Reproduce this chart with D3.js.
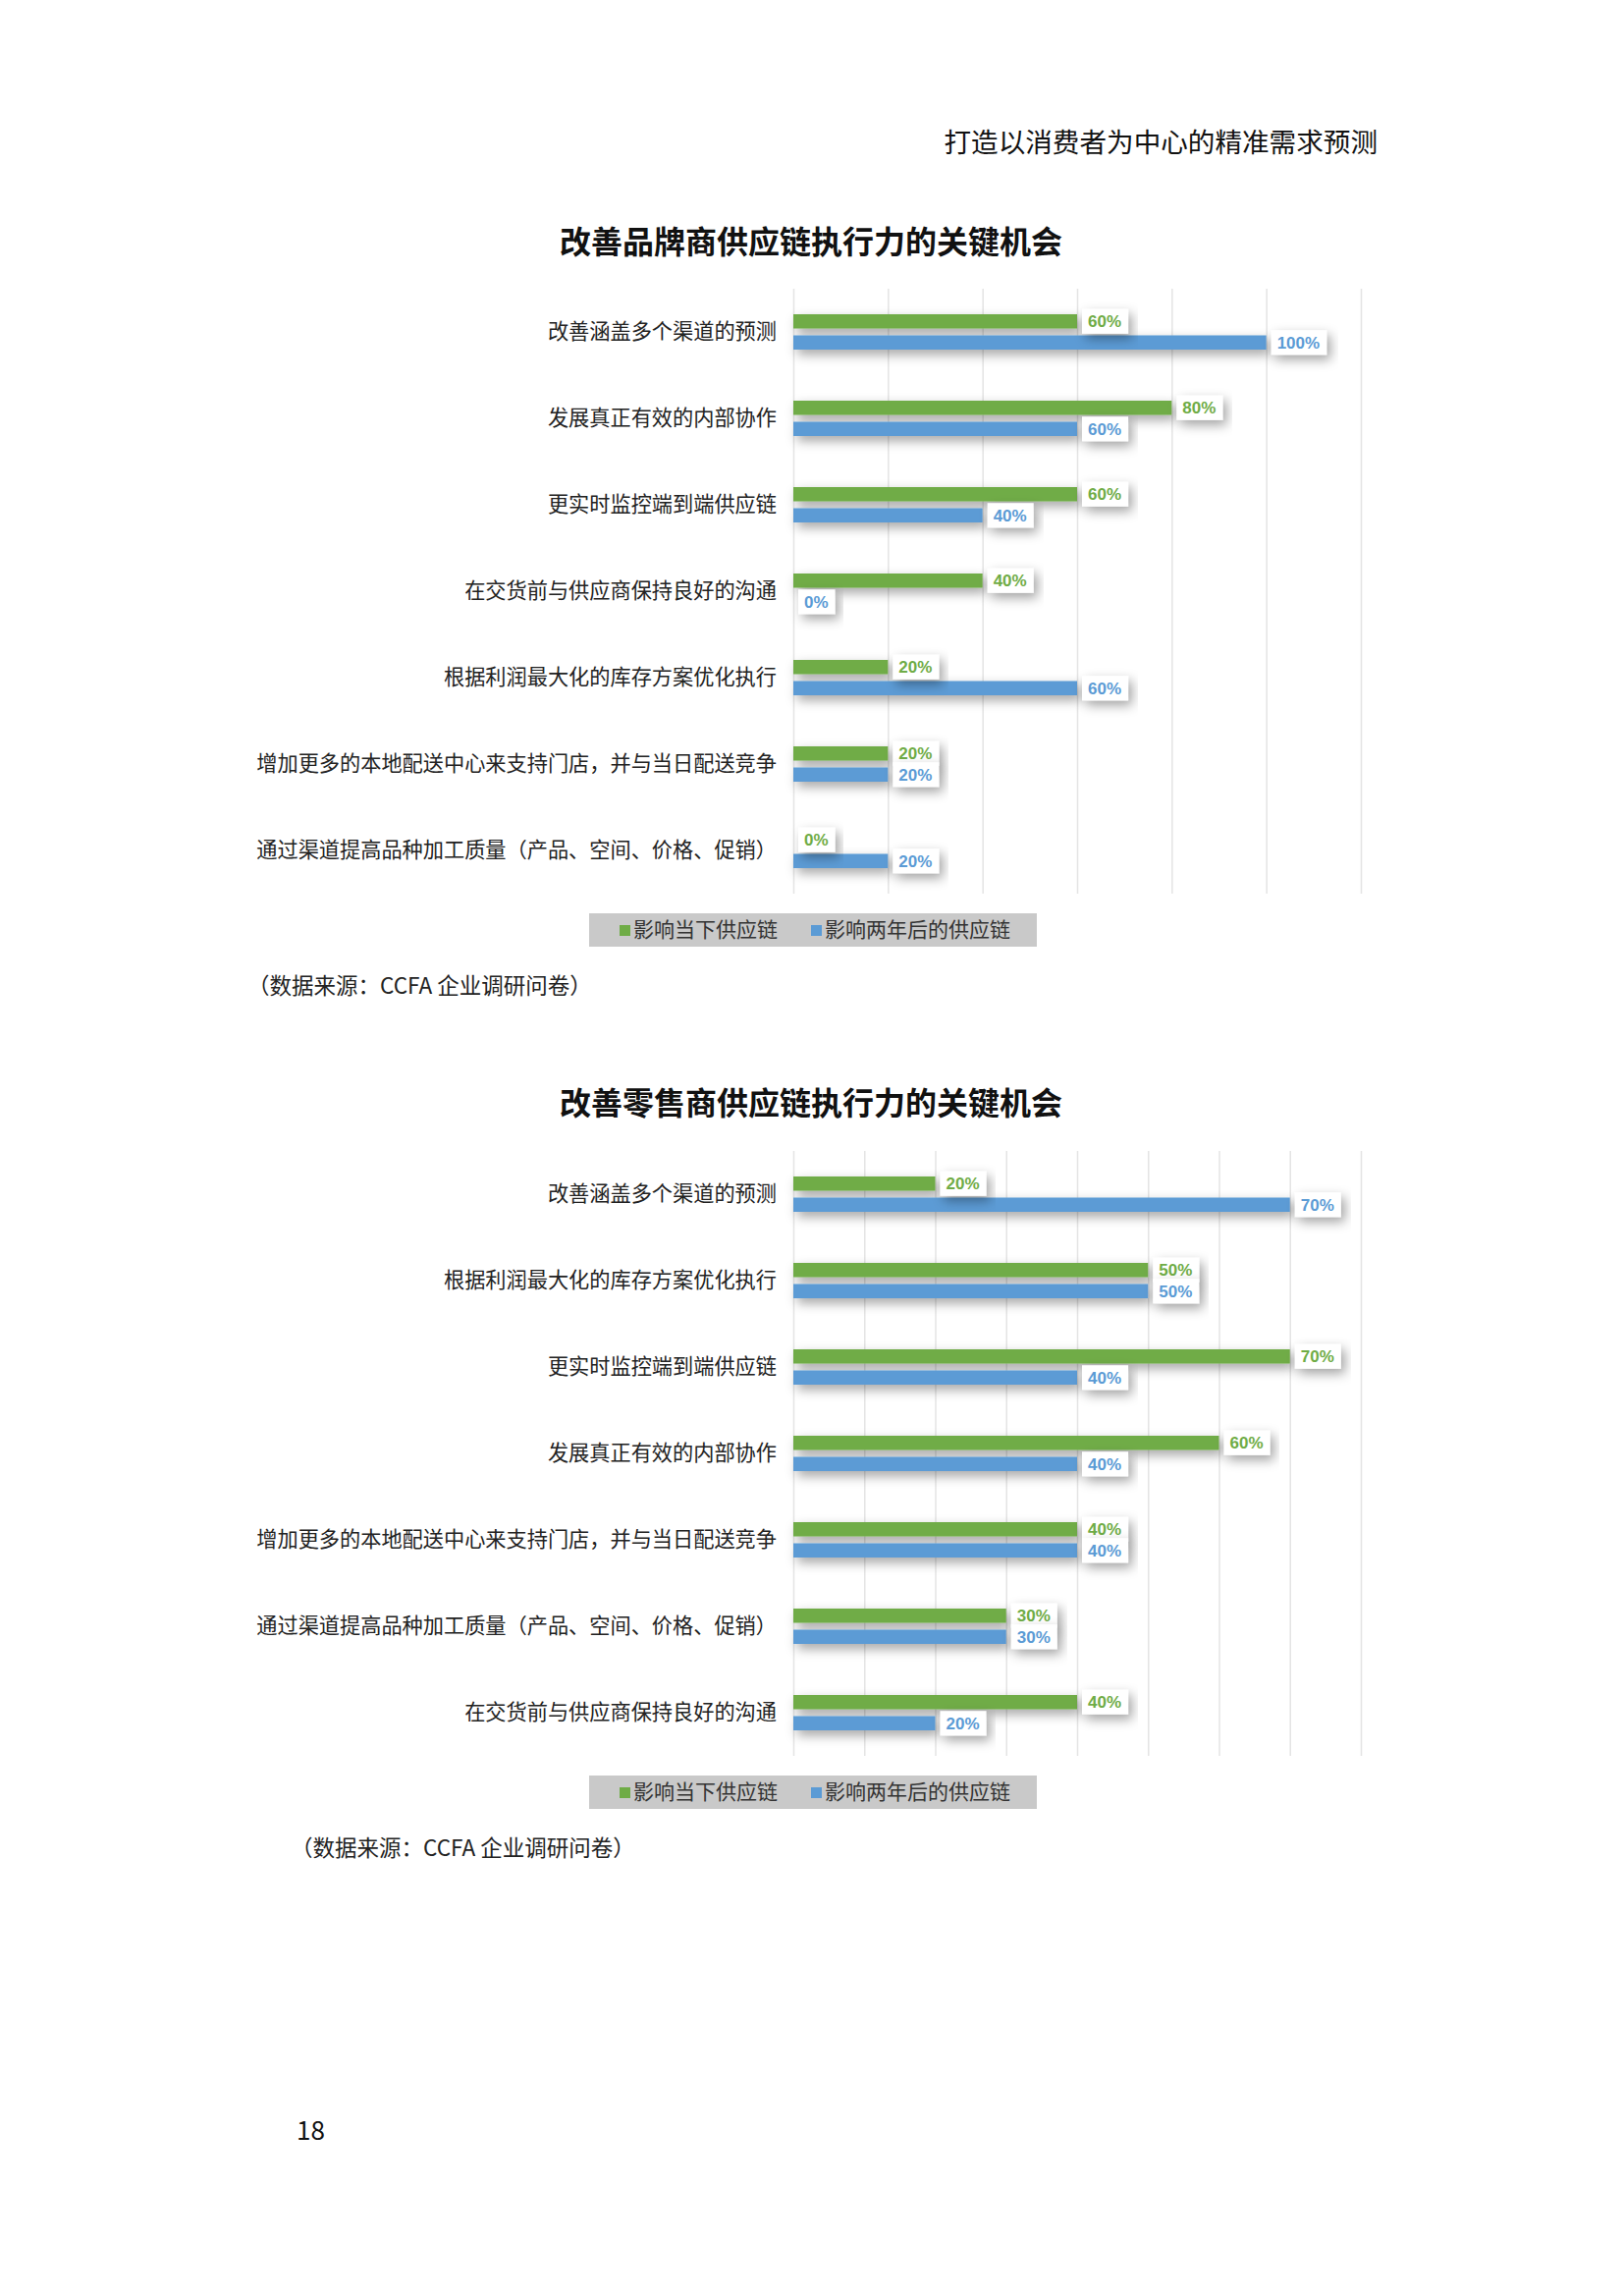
<!DOCTYPE html>
<html>
<head>
<meta charset="utf-8">
<script src="https://cdn.jsdelivr.net/npm/d3@7"></script>
<style>
  html, body { margin: 0; padding: 0; background: #fff; }
  svg { display: block; }
</style>
</head>
<body>
<svg id="page" width="1653" height="2338"></svg>
<script>
// ---------- DATA ----------
const pageHeader = "打造以消费者为中心的精准需求预测";
const seriesNames = ["影响当下供应链", "影响两年后的供应链"];
const sourceNote = "（数据来源：CCFA 企业调研问卷）";
const pageNumber = "18";

const title1 = "改善品牌商供应链执行力的关键机会";
const categories1 = [
  "改善涵盖多个渠道的预测",
  "发展真正有效的内部协作",
  "更实时监控端到端供应链",
  "在交货前与供应商保持良好的沟通",
  "根据利润最大化的库存方案优化执行",
  "增加更多的本地配送中心来支持门店，并与当日配送竞争",
  "通过渠道提高品种加工质量（产品、空间、价格、促销）"
];
const current1 = [0.6, 0.8, 0.6, 0.4, 0.2, 0.2, 0.0];
const future1  = [1.0, 0.6, 0.4, 0.0, 0.6, 0.2, 0.2];
const ticks1 = [0, 0.2, 0.4, 0.6, 0.8, 1.0, 1.2];

const title2 = "改善零售商供应链执行力的关键机会";
const categories2 = [
  "改善涵盖多个渠道的预测",
  "根据利润最大化的库存方案优化执行",
  "更实时监控端到端供应链",
  "发展真正有效的内部协作",
  "增加更多的本地配送中心来支持门店，并与当日配送竞争",
  "通过渠道提高品种加工质量（产品、空间、价格、促销）",
  "在交货前与供应商保持良好的沟通"
];
const current2 = [0.2, 0.5, 0.7, 0.6, 0.4, 0.3, 0.4];
const future2  = [0.7, 0.5, 0.4, 0.4, 0.4, 0.3, 0.2];
const ticks2 = [0, 0.1, 0.2, 0.3, 0.4, 0.5, 0.6, 0.7, 0.8];

// ---------- STYLE ----------
const CJK = "'Noto Sans CJK SC', 'Noto Sans', sans-serif";
const LAT = "'Liberation Sans', Arial, sans-serif";
const GREEN = "#6FAC46", BLUE = "#5B9BD5";
const colors = [GREEN, BLUE];

const svg = d3.select("#page");
const defs = svg.append("defs");
const f = defs.append("filter").attr("id", "shadow")
  .attr("x", "-20%").attr("y", "-150%").attr("width", "140%").attr("height", "400%");
f.append("feDropShadow").attr("dx", 4).attr("dy", 5).attr("stdDeviation", 6)
  .attr("flood-color", "#000").attr("flood-opacity", 0.36);

// page header
svg.append("text").attr("x", 1403).attr("y", 145).attr("dy", "0.35em")
  .attr("text-anchor", "end").attr("font-family", CJK).attr("font-size", 27.6)
  .attr("fill", "#111").text(pageHeader);

// page number
svg.append("text").attr("x", 302).attr("y", 2170).attr("dy", "0.35em")
  .attr("font-family", CJK).attr("font-size", 26).attr("fill", "#111").text(pageNumber);

function drawChart(cfg) {
  const g = svg.append("g");
  const plotTop = cfg.top, plotH = 616;
  const x = d3.scaleLinear().domain([0, cfg.max]).range([808, 1386]);
  const y = d3.scaleBand().domain(cfg.categories).range([plotTop, plotTop + plotH]);
  const sub = d3.scaleBand().domain([0, 1]).range([-18, 18]).paddingInner(0.325);

  // title
  g.append("text").attr("x", 826).attr("y", cfg.titleY).attr("dy", "0.35em")
    .attr("text-anchor", "middle").attr("font-family", CJK).attr("font-weight", "bold")
    .attr("font-size", 32).attr("fill", "#111").text(cfg.title);

  // grid
  const grid = g.append("g").attr("transform", `translate(0,${plotTop + plotH})`)
    .call(d3.axisBottom(x).tickValues(cfg.ticks).tickSize(-plotH).tickFormat(""));
  grid.select(".domain").remove();
  grid.selectAll(".tick line").attr("stroke", "#e4e4e4").attr("stroke-width", 1.5);

  // category labels
  g.append("g").selectAll("text").data(cfg.categories).join("text")
    .attr("x", 791).attr("y", d => y(d) + y.bandwidth() / 2).attr("dy", "0.35em")
    .attr("text-anchor", "end").attr("font-family", CJK).attr("font-size", 21.2)
    .attr("fill", "#222").text(d => d);

  const rows = [];
  cfg.categories.forEach((c, i) => {
    rows.push({ c, s: 0, v: cfg.series[0][i] });
    rows.push({ c, s: 1, v: cfg.series[1][i] });
  });

  // bars
  g.append("g").attr("filter", "url(#shadow)").selectAll("rect").data(rows).join("rect")
    .attr("x", x(0))
    .attr("y", d => y(d.c) + y.bandwidth() / 2 + sub(d.s))
    .attr("width", d => x(d.v) - x(0))
    .attr("height", sub.bandwidth())
    .attr("fill", d => colors[d.s]);

  // data labels
  const lab = g.append("g").selectAll("g").data(rows).join("g")
    .attr("transform", d => `translate(${x(d.v) + 5},${y(d.c) + y.bandwidth() / 2 + sub(d.s) + sub.bandwidth() / 2})`);
  const rectSel = lab.append("rect").attr("fill", "#fff").attr("filter", "url(#shadow)");
  const txt = lab.append("text").attr("x", 6).attr("dy", "0.36em")
    .attr("font-family", LAT).attr("font-weight", "bold").attr("font-size", 17)
    .attr("fill", d => colors[d.s]).text(d => d3.format(".0%")(d.v));
  txt.each(function (d) { d.w = this.getComputedTextLength(); });
  rectSel.attr("x", 0).attr("y", -12.5).attr("height", 25).attr("width", d => d.w + 13);

  // legend
  const ly = plotTop + plotH + 20;
  const lg = g.append("g");
  lg.append("rect").attr("x", 600).attr("y", ly).attr("width", 456).attr("height", 34).attr("fill", "#c9c9c9");
  const lx = [631, 826];
  seriesNames.forEach((n, i) => {
    lg.append("rect").attr("x", lx[i]).attr("y", ly + 12).attr("width", 11).attr("height", 11).attr("fill", colors[i]);
    lg.append("text").attr("x", lx[i] + 14).attr("y", ly + 17).attr("dy", "0.35em")
      .attr("font-family", CJK).attr("font-size", 21).attr("fill", "#333").text(n);
  });

  // source
  g.append("text").attr("x", cfg.sourceX).attr("y", ly + 34 + 40).attr("dy", "0.35em")
    .attr("font-family", CJK).attr("font-size", 22.5).attr("fill", "#222").text(sourceNote);
}

drawChart({ title: title1, titleY: 247, top: 294, max: 1.2, ticks: ticks1,
  categories: categories1, series: [current1, future1], sourceX: 252 });
drawChart({ title: title2, titleY: 1124, top: 1172, max: 0.8, ticks: ticks2,
  categories: categories2, series: [current2, future2], sourceX: 296 });
</script>
</body>
</html>
